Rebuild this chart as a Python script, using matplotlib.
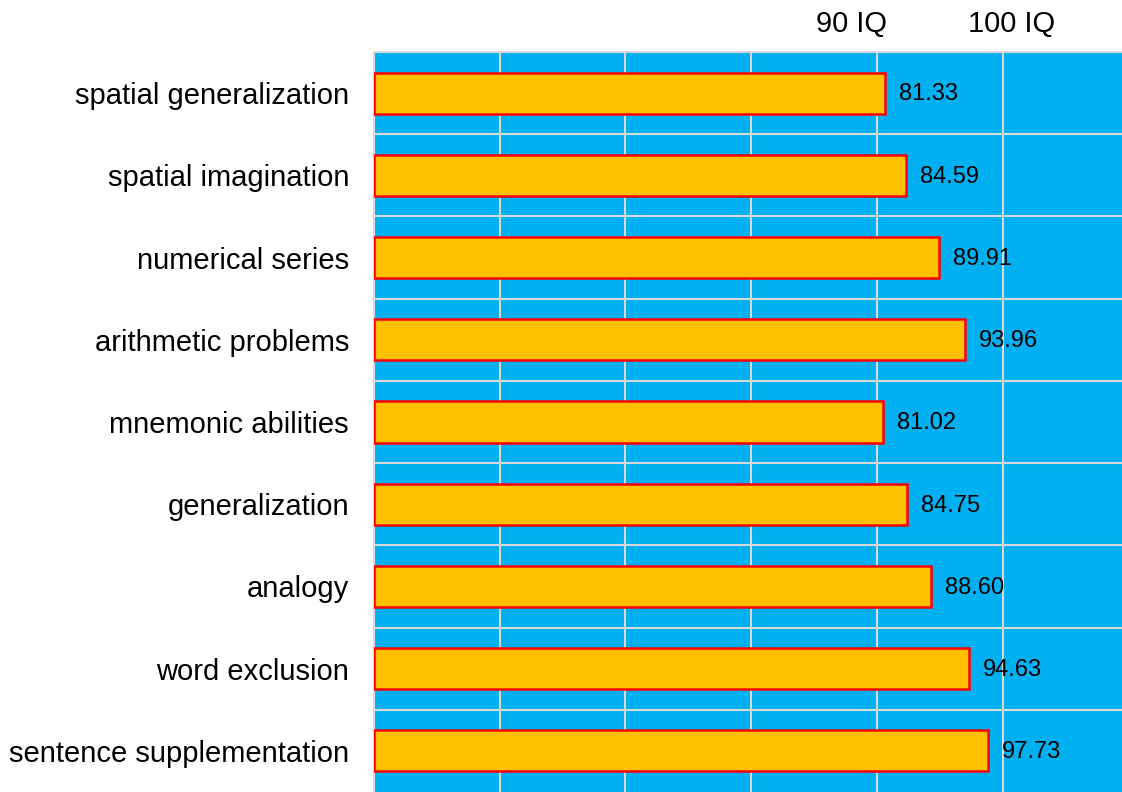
import matplotlib
matplotlib.use("Agg")
import matplotlib.pyplot as plt

categories = ["spatial generalization", "spatial imagination", "numerical series",
              "arithmetic problems", "mnemonic abilities", "generalization",
              "analogy", "word exclusion", "sentence supplementation"]
values = [81.33, 84.59, 89.91, 93.96, 81.02, 84.75, 88.60, 94.63, 97.73]
top_tick_pos = [75.9, 101.4]
top_tick_labels = ["90 IQ", "100 IQ"]
grid_ticks = [0, 20, 40, 60, 80, 100]

plt.rcParams['font.family'] = ['Liberation Sans', 'DejaVu Sans']

fig = plt.figure(figsize=(11.22, 7.92), dpi=100)
ax = fig.add_axes([374/1122, 0, 1 - 374/1122, 1 - 52/792])
ax.set_facecolor('#00B0F0')

ypos = list(range(len(categories)))
bars = ax.barh(ypos, values, height=0.5, color='#FFC000', edgecolor='#FF0000',
               linewidth=1.8, zorder=3)
for y, v in zip(ypos, values):
    ax.annotate(f"{v:.2f}", xy=(v, y), xytext=(10, -1), textcoords='offset points',
                ha='left', va='center', fontsize=17, color='black', zorder=4)

ax.set_xlim(0, 119)
ax.set_ylim(len(categories) - 0.5, -0.5)

ax.set_yticks(ypos)
ax.set_yticklabels(categories, fontsize=21)
ax.set_yticks([y + 0.5 for y in ypos[:-1]], minor=True)
ax.tick_params(axis='y', which='both', length=0, pad=18)

ax.xaxis.tick_top()
ax.set_xticks(top_tick_pos)
ax.set_xticklabels(top_tick_labels, fontsize=21)
ax.set_xticks(grid_ticks, minor=True)
ax.tick_params(axis='x', which='both', length=0, pad=10)

ax.grid(False)
ax.grid(which='minor', color='#D9D9D9', linewidth=1.5, zorder=1)
ax.set_axisbelow(True)

for side in ['right', 'bottom']:
    ax.spines[side].set_visible(False)
for side in ['left', 'top']:
    ax.spines[side].set_color('#D9D9D9')
    ax.spines[side].set_linewidth(1.5)

fig.savefig("out.png", dpi=100)
